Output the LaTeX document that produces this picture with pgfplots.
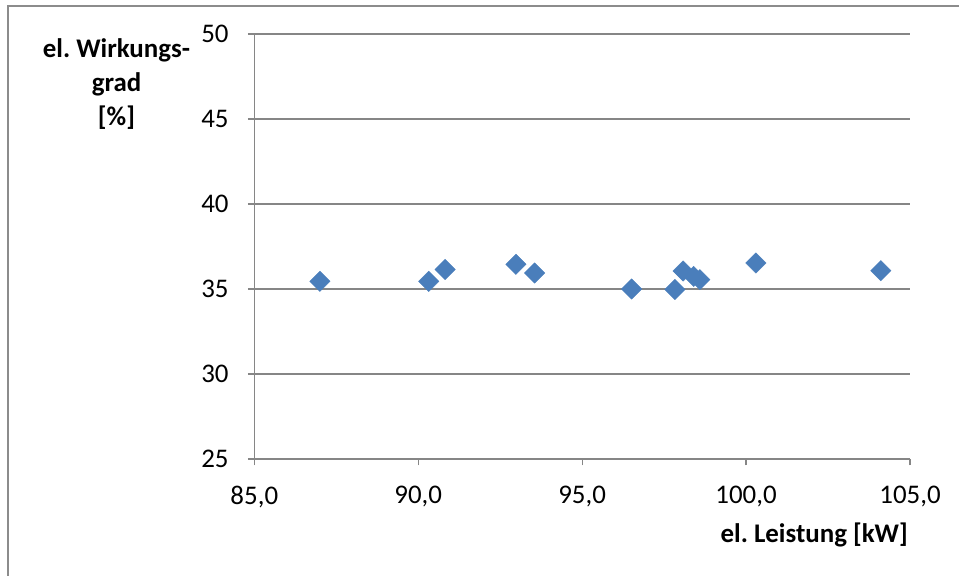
\documentclass[border=0pt]{standalone}
\usepackage{pgfplots}
\pgfplotsset{compat=1.18}
\usepackage{fontspec}
\setmainfont{Carlito}
\frenchspacing

\definecolor{ptblue}{HTML}{4A7EBB}
\definecolor{linegray}{HTML}{868686}
\definecolor{framegray}{HTML}{8C8C8C}

\begin{document}
\begin{tikzpicture}[x=1bp, y=1bp, font=\fontsize{27}{34}\selectfont]
  \useasboundingbox (0,0) rectangle (959,576);
  % chart frame
  \draw[framegray, line width=2bp] (8,-20) rectangle (980,570);

  \begin{axis}[
    at={(254.3bp,117bp)}, anchor=south west,
    scale only axis, width=655.7bp, height=425bp,
    xmin=85, xmax=105, ymin=25, ymax=50,
    xtick={85,90,...,105}, ytick={25,30,...,50},
    axis lines=left,
    axis line style={-, linegray, line width=1.4bp},
    ymajorgrids, grid style={linegray, line width=1.3bp},
    tick style={linegray, line width=1.3bp},
    tick align=outside, major tick length=6.5bp,
    /pgf/number format/assume math mode=true,
    xticklabel style={/pgf/number format/fixed, /pgf/number format/fixed zerofill,
      /pgf/number format/precision=1, /pgf/number format/use comma,
      anchor=north, inner sep=0pt, yshift=-20bp},
    yticklabel style={/pgf/number format/fixed, /pgf/number format/precision=0,
      anchor=east, inner sep=0pt, xshift=-19bp},
    ticklabel style={font=\fontsize{27}{32}\selectfont},
    clip=false,
  ]
    \addplot[only marks, mark=square*, mark size=7.2bp,
      mark options={rotate=45, fill=ptblue, draw=ptblue}]
      coordinates {
        (87.0, 35.45)
        (90.32, 35.45)
        (90.82, 36.15)
        (92.98, 36.45)
        (93.55, 35.94)
        (96.51, 35.0)
        (97.83, 34.97)
        (98.08, 36.06)
        (98.40, 35.74)
        (98.59, 35.55)
        (100.30, 36.53)
        (104.11, 36.08)
      };
  \end{axis}

  % axis titles
  \node[anchor=base, inner sep=0pt, font=\fontsize{27}{34}\selectfont\bfseries] at (116.5,518) {el. Wirkungs-};
  \node[anchor=base, inner sep=0pt, font=\fontsize{27}{34}\selectfont\bfseries] at (116.5,484) {grad};
  \node[anchor=base, inner sep=0pt, font=\fontsize{27}{34}\selectfont\bfseries] at (116.5,450) {[\%]};
  \node[anchor=base east, inner sep=0pt, font=\fontsize{27}{34}\selectfont\bfseries] at (908,33) {el. Leistung [kW]};
\end{tikzpicture}
\end{document}
